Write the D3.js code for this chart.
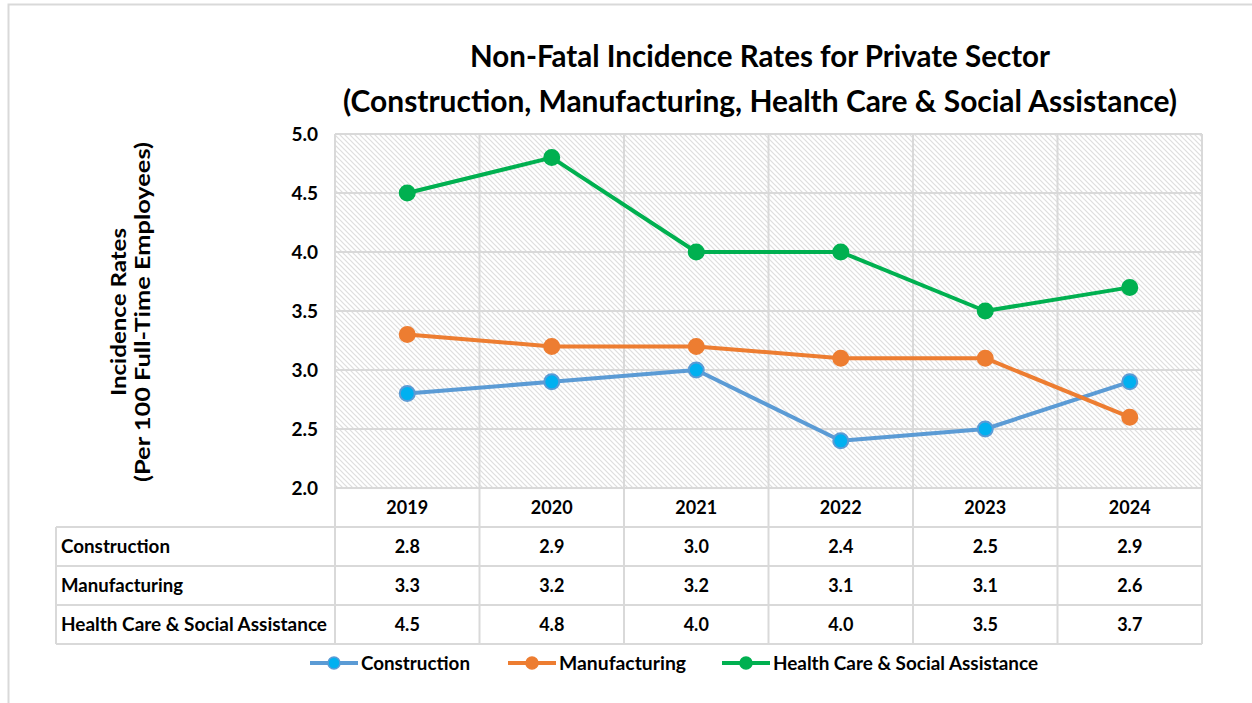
<!DOCTYPE html>
<html>
<head>
<meta charset="utf-8">
<script src="https://cdn.jsdelivr.net/npm/d3@7"></script>
<style>
  body { margin: 0; background: #fff; }
  text { font-family: Lato, "Open Sans", sans-serif; font-weight: bold; fill: #000; }
</style>
</head>
<body>
<div id="chart"></div>
<script>
// Data
var years = ['2019', '2020', '2021', '2022', '2023', '2024'];
var construction = [2.8, 2.9, 3.0, 2.4, 2.5, 2.9];
var manufacturing = [3.3, 3.2, 3.2, 3.1, 3.1, 2.6];
var healthCare = [4.5, 4.8, 4.0, 4.0, 3.5, 3.7];
var seriesNames = ['Construction', 'Manufacturing', 'Health Care & Social Assistance'];
var yTicks = [2.0, 2.5, 3.0, 3.5, 4.0, 4.5, 5.0];

var seriesColors = {
  line: ['#5b9bd5', '#ed7d31', '#00b050'],
  marker: ['#00b0f0', '#ed7d31', '#00b050']
};

var W = 1252, H = 703;
var plot = {left: 335, right: 1202, top: 134, bottom: 488};
var rowH = 39;
var tableLeft = 56;
var grid = '#d9d9d9';

// squeeze text to the narrow width the original font had
function fitText(sel, width) {
  sel.attr('textLength', width).attr('lengthAdjust', 'spacingAndGlyphs');
  return sel;
}

var svg = d3.select('#chart').append('svg')
  .attr('width', W).attr('height', H);

// hatch pattern for the plot area
var defs = svg.append('defs');
var pat = defs.append('pattern')
  .attr('id', 'hatch').attr('patternUnits', 'userSpaceOnUse')
  .attr('width', 5).attr('height', 5);
pat.append('rect').attr('width', 5).attr('height', 5).attr('fill', '#fff');
pat.append('path')
  .attr('d', 'M-1,-1 L6,6 M-1,4 L1,6 M4,-1 L6,1')
  .attr('stroke', '#dedede').attr('stroke-width', 1.2);

// outer chart border
svg.append('path')
  .attr('d', 'M8.5,' + H + ' V4.5 H' + W)
  .attr('fill', 'none').attr('stroke', grid).attr('stroke-width', 2);

// title
fitText(svg.append('text').attr('x', 760).attr('y', 67).attr('text-anchor', 'middle')
  .style('font-size', '30px').text('Non-Fatal Incidence Rates for Private Sector'), 580);
fitText(svg.append('text').attr('x', 760).attr('y', 112).attr('text-anchor', 'middle')
  .style('font-size', '30px').text('(Construction, Manufacturing, Health Care & Social Assistance)'), 834);

var x = d3.scaleBand().domain(years).range([plot.left, plot.right]);
var y = d3.scaleLinear().domain([2, 5]).range([plot.bottom, plot.top]);

svg.append('rect')
  .attr('x', plot.left).attr('y', plot.top)
  .attr('width', plot.right - plot.left).attr('height', plot.bottom - plot.top)
  .attr('fill', 'url(#hatch)');

// gridlines
svg.append('g').selectAll('line').data(yTicks).join('line')
  .attr('x1', plot.left).attr('x2', plot.right)
  .attr('y1', function(d) { return y(d); }).attr('y2', function(d) { return y(d); })
  .attr('stroke', grid).attr('stroke-width', 2);

var colEdges = years.map(function(d) { return x(d); }).concat([plot.right]);
svg.append('g').selectAll('line').data(colEdges).join('line')
  .attr('x1', function(d) { return d; }).attr('x2', function(d) { return d; })
  .attr('y1', plot.top).attr('y2', plot.bottom + rowH * 4)
  .attr('stroke', grid).attr('stroke-width', 2);

// y axis labels
svg.append('g').selectAll('text').data(yTicks).join('text')
  .attr('x', 318).attr('y', function(d) { return y(d) + 7; })
  .attr('text-anchor', 'end').style('font-size', '19px')
  .text(function(d) { return d.toFixed(1); });

// y axis title
var yt = svg.append('g').attr('transform', 'translate(131,312) rotate(-90)');
fitText(yt.append('text').attr('y', -5).attr('text-anchor', 'middle')
  .style('font-size', '21px').text('Incidence Rates'), 168);
fitText(yt.append('text').attr('y', 19).attr('text-anchor', 'middle')
  .style('font-size', '21px').text('(Per 100 Full-Time Employees)'), 340);

// data table
var rows = [construction, manufacturing, healthCare];
svg.append('g').selectAll('line').data([0, 1, 2, 3]).join('line')
  .attr('x1', tableLeft).attr('x2', plot.right)
  .attr('y1', function(i) { return plot.bottom + rowH * (i + 1); })
  .attr('y2', function(i) { return plot.bottom + rowH * (i + 1); })
  .attr('stroke', grid).attr('stroke-width', 2);
svg.append('line')
  .attr('x1', tableLeft).attr('x2', tableLeft)
  .attr('y1', plot.bottom + rowH).attr('y2', plot.bottom + rowH * 4)
  .attr('stroke', grid).attr('stroke-width', 2);

svg.append('g').selectAll('text').data(years).join('text')
  .attr('x', function(d) { return x(d) + x.bandwidth() / 2; })
  .attr('y', plot.bottom + 26)
  .attr('text-anchor', 'middle').style('font-size', '18px')
  .text(function(d) { return d; });

var labelWidths = [109, 122, 266];
rows.forEach(function(vals, r) {
  var ry = plot.bottom + rowH * (r + 1) + 26;
  fitText(svg.append('text').attr('x', 61).attr('y', ry).style('font-size', '18px')
    .text(seriesNames[r]), labelWidths[r]);
  svg.append('g').selectAll('text').data(vals).join('text')
    .attr('x', function(d, i) { return x(years[i]) + x.bandwidth() / 2; })
    .attr('y', ry).attr('text-anchor', 'middle').style('font-size', '18px')
    .text(function(d) { return d.toFixed(1); });
});

// lines and markers
var line = d3.line()
  .x(function(d, i) { return x(years[i]) + x.bandwidth() / 2; })
  .y(function(d) { return y(d); });

rows.forEach(function(vals, r) {
  var g = svg.append('g');
  g.append('path').datum(vals).attr('d', line)
    .attr('fill', 'none').attr('stroke', seriesColors.line[r]).attr('stroke-width', 4)
    .attr('stroke-linejoin', 'round');
  g.selectAll('circle').data(vals).join('circle')
    .attr('cx', function(d, i) { return x(years[i]) + x.bandwidth() / 2; })
    .attr('cy', function(d) { return y(d); })
    .attr('r', 7.5)
    .attr('fill', seriesColors.marker[r]).attr('stroke', seriesColors.line[r]).attr('stroke-width', 2);
});

// legend
var legendX = [310, 508, 722];
var legendWidths = [109, 127, 265];
seriesNames.forEach(function(name, r) {
  var lg = svg.append('g').attr('transform', 'translate(' + legendX[r] + ',663)');
  lg.append('line').attr('x1', 0).attr('x2', 48).attr('stroke', seriesColors.line[r]).attr('stroke-width', 4);
  lg.append('circle').attr('cx', 24).attr('r', 6)
    .attr('fill', seriesColors.marker[r]).attr('stroke', seriesColors.line[r]).attr('stroke-width', 1.5);
  fitText(lg.append('text').attr('x', 51).attr('y', 7).style('font-size', '19px').text(name), legendWidths[r]);
});
</script>
</body>
</html>
